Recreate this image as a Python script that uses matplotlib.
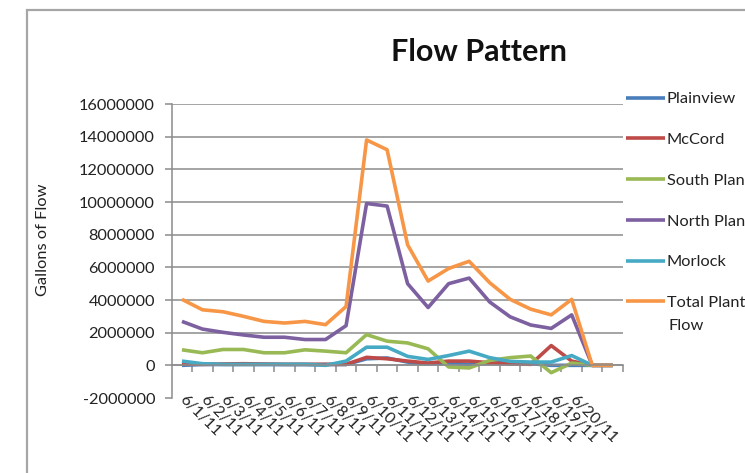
import numpy as np
import matplotlib
matplotlib.use("Agg")
import matplotlib.pyplot as plt
from matplotlib.patches import Rectangle

plt.rcParams['font.family'] = ['Lato', 'DejaVu Sans']

dates = ['6/1/11', '6/2/11', '6/3/11', '6/4/11', '6/5/11', '6/6/11', '6/7/11',
         '6/8/11', '6/9/11', '6/10/11', '6/11/11', '6/12/11', '6/13/11', '6/14/11',
         '6/15/11', '6/16/11', '6/17/11', '6/18/11', '6/19/11', '6/20/11', '', '']

plainview = [0.0, 0.05, 0.05, 0.05, 0.05, 0.05, 0.05, 0.05, 0.05, 0.40, 0.45,
             0.20, 0.10, 0.15, 0.05, 0.20, 0.20, 0.10, 0.0, 0.0, 0, 0]
mccord = [0.10, 0.06, 0.08, 0.10, 0.08, 0.06, 0.06, 0.06, 0.06, 0.49, 0.40,
          0.26, 0.14, 0.26, 0.26, 0.16, 0.10, 0.06, 1.21, 0.26, 0, 0]
south_plant = [0.95, 0.77, 0.97, 0.97, 0.77, 0.77, 0.95, 0.87, 0.77, 1.88, 1.48,
               1.37, 1.01, -0.10, -0.16, 0.30, 0.47, 0.57, -0.45, 0.14, 0, 0]
north_plant = [2.69, 2.22, 2.02, 1.86, 1.72, 1.72, 1.58, 1.58, 2.43, 9.91, 9.75,
               5.00, 3.54, 5.00, 5.34, 3.88, 2.97, 2.47, 2.26, 3.09, 0, 0]
morlock = [0.26, 0.10, 0.06, 0.06, 0.06, 0.06, 0.06, 0.0, 0.26, 1.11, 1.11,
           0.55, 0.36, 0.60, 0.87, 0.47, 0.24, 0.20, 0.20, 0.60, 0, 0]
total = [4.04, 3.40, 3.28, 3.00, 2.69, 2.59, 2.69, 2.49, 3.60, 13.80, 13.20,
         7.38, 5.16, 5.93, 6.37, 5.06, 4.04, 3.44, 3.09, 4.04, 0, 0]

series = [
    ('Plainview', plainview, '#4A7EBB'),
    ('McCord', mccord, '#BE4B48'),
    ('South Plant', south_plant, '#98B954'),
    ('North Plant', north_plant, '#7D60A0'),
    ('Morlock', morlock, '#46AAC5'),
    ('Total Plant', total, '#F79646'),
]

W, H = 745, 473
fig = plt.figure(figsize=(W / 100, H / 100), dpi=100)

# outer chart border (cropped on the right and bottom)
fig.add_artist(Rectangle((27 / W, -0.1), 1.0, 1 - 10 / H + 0.1,
                         transform=fig.transFigure, fill=False,
                         edgecolor='#a6a6a6', linewidth=1.6))

ax = fig.add_axes([171.7 / W, 1 - 398 / H, (623 - 171.7) / W, (398 - 104) / H])

x = np.arange(len(dates))
for name, vals, color in series:
    ax.plot(x, np.array(vals) * 1e6, color=color, linewidth=2.6, label=name,
            solid_joinstyle='round', solid_capstyle='butt')

ax.set_xlim(-0.5, len(dates) - 0.5)
ax.set_ylim(-2e6, 16e6)
ax.set_yticks(np.arange(-2e6, 16.1e6, 2e6))
ax.set_yticklabels([str(int(v)) for v in np.arange(-2e6, 16.1e6, 2e6)])

for v in np.arange(0, 16.1e6, 2e6):
    ax.axhline(v, color='#8c8c8c', linewidth=1.1, zorder=0)

for s in ['top', 'right']:
    ax.spines[s].set_visible(False)
ax.spines['left'].set_color('#8c8c8c')
ax.spines['left'].set_linewidth(1.1)
ax.spines['bottom'].set_position(('data', 0))
ax.spines['bottom'].set_color('#8c8c8c')
ax.spines['bottom'].set_linewidth(1.1)

ax.set_xticks(x)
ax.set_xticklabels(dates, rotation=-45, ha='left', va='center',
                   rotation_mode='anchor')
ax.set_xticks(np.arange(0.5, len(dates), 1.0), minor=True)
ax.tick_params(axis='x', which='major', length=0, pad=23, labelsize=11.5,
               labelcolor='#222222')
ax.tick_params(axis='x', which='minor', length=5, width=1.1, color='#8c8c8c',
               direction='out')
ax.tick_params(axis='y', length=5, width=1.1, color='#8c8c8c', pad=7,
               labelsize=11.8, labelcolor='#222222')

ax.set_ylabel('Gallons of Flow', fontsize=11.8, color='#222222')
ax.yaxis.set_label_coords(-(171.7 - 50) / (623 - 171.7), (398 - 240) / (398 - 104))

fig.text(479 / W, 1 - 52 / H, 'Flow Pattern', ha='center', va='center',
         fontsize=22, fontweight='bold', color='#111111')

fig.legend(loc='upper left', bbox_to_anchor=(626 / W, 1 - 92 / H),
           bbox_transform=fig.transFigure, frameon=False, fontsize=11.8,
           handlelength=2.4, handletextpad=0.1, labelspacing=1.6,
           borderpad=0, borderaxespad=0, labelcolor='#222222')
# second line of the wrapped "Total Plant Flow" legend label
fig.text(668 / W, 1 - 326 / H, 'Flow', ha='left', va='center',
         fontsize=11.8, color='#222222')

fig.savefig('out.png', dpi=100)
